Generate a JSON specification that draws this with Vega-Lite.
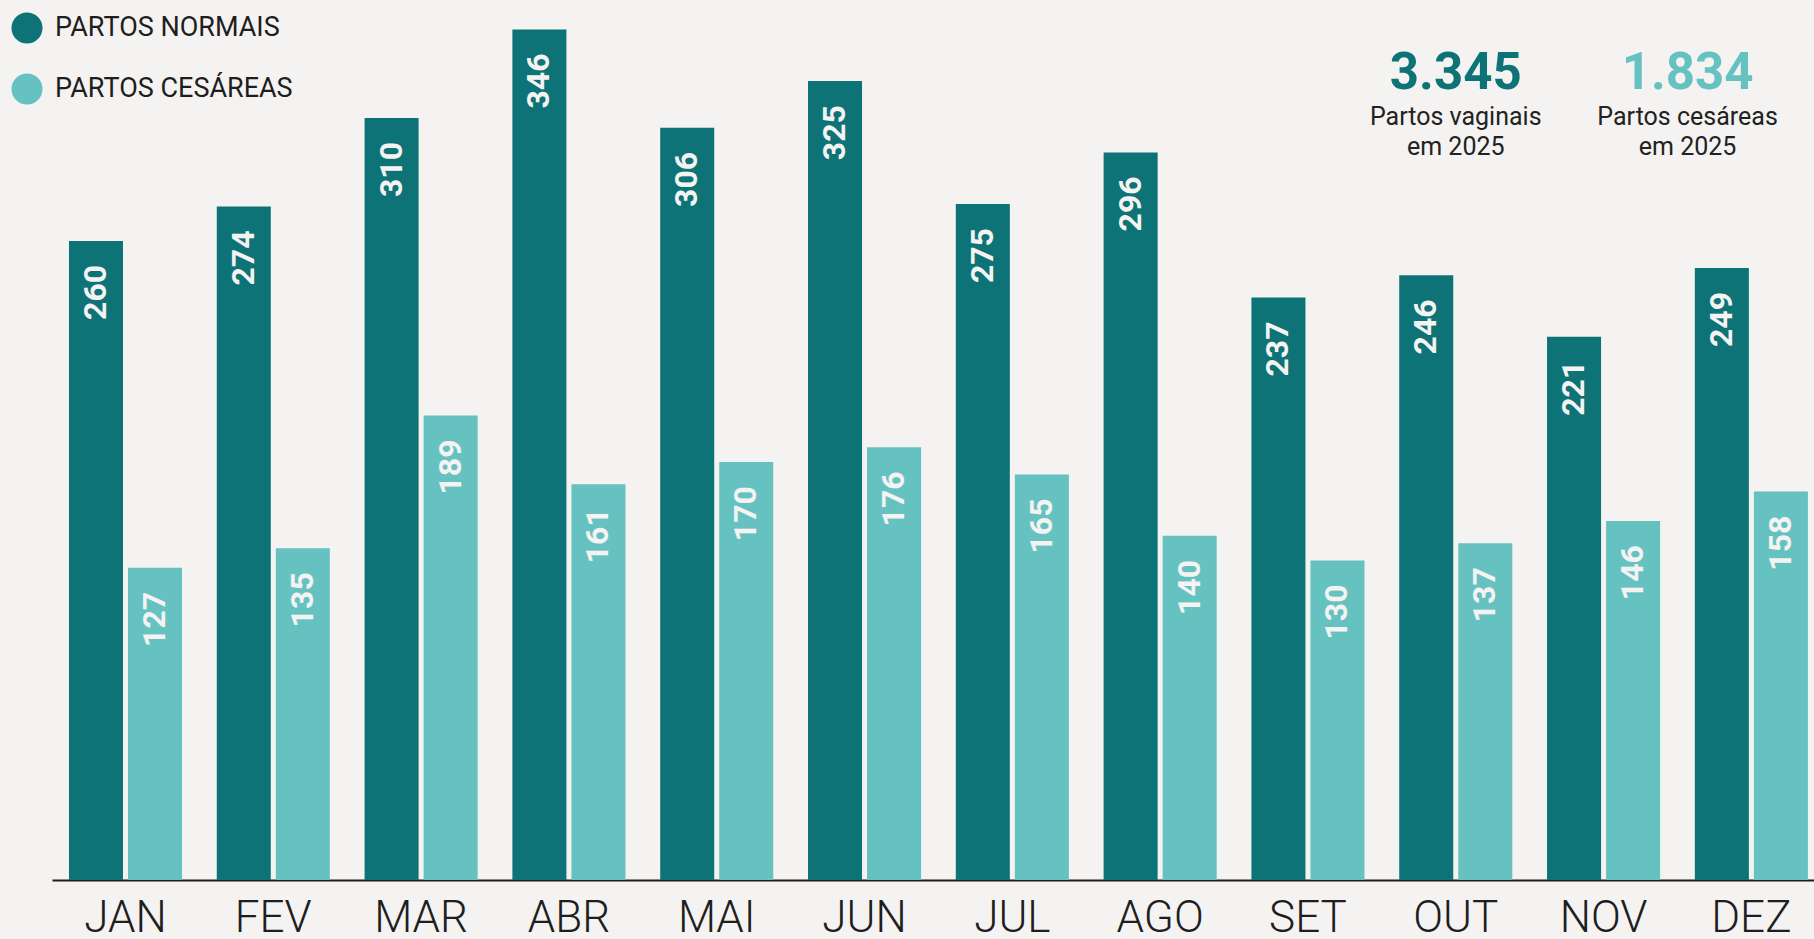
{
  "$schema": "https://vega.github.io/schema/vega-lite/v6.json",
  "width": 1762,
  "height": 880,
  "autosize": {"type": "none"},
  "padding": {"left": 52, "top": 0, "right": 0, "bottom": 59},
  "background": "#f4f3f1",
  "config": {
    "view": {"stroke": null},
    "font": "Roboto"
  },
  "datasets": {
    "partos": [
      {"mes": "JAN", "serie": "PARTOS NORMAIS", "valor": 260},
      {"mes": "JAN", "serie": "PARTOS CESÁREAS", "valor": 127},
      {"mes": "FEV", "serie": "PARTOS NORMAIS", "valor": 274},
      {"mes": "FEV", "serie": "PARTOS CESÁREAS", "valor": 135},
      {"mes": "MAR", "serie": "PARTOS NORMAIS", "valor": 310},
      {"mes": "MAR", "serie": "PARTOS CESÁREAS", "valor": 189},
      {"mes": "ABR", "serie": "PARTOS NORMAIS", "valor": 346},
      {"mes": "ABR", "serie": "PARTOS CESÁREAS", "valor": 161},
      {"mes": "MAI", "serie": "PARTOS NORMAIS", "valor": 306},
      {"mes": "MAI", "serie": "PARTOS CESÁREAS", "valor": 170},
      {"mes": "JUN", "serie": "PARTOS NORMAIS", "valor": 325},
      {"mes": "JUN", "serie": "PARTOS CESÁREAS", "valor": 176},
      {"mes": "JUL", "serie": "PARTOS NORMAIS", "valor": 275},
      {"mes": "JUL", "serie": "PARTOS CESÁREAS", "valor": 165},
      {"mes": "AGO", "serie": "PARTOS NORMAIS", "valor": 296},
      {"mes": "AGO", "serie": "PARTOS CESÁREAS", "valor": 140},
      {"mes": "SET", "serie": "PARTOS NORMAIS", "valor": 237},
      {"mes": "SET", "serie": "PARTOS CESÁREAS", "valor": 130},
      {"mes": "OUT", "serie": "PARTOS NORMAIS", "valor": 246},
      {"mes": "OUT", "serie": "PARTOS CESÁREAS", "valor": 137},
      {"mes": "NOV", "serie": "PARTOS NORMAIS", "valor": 221},
      {"mes": "NOV", "serie": "PARTOS CESÁREAS", "valor": 146},
      {"mes": "DEZ", "serie": "PARTOS NORMAIS", "valor": 249},
      {"mes": "DEZ", "serie": "PARTOS CESÁREAS", "valor": 158}
    ],
    "totais": [
      {"mes": "OUT", "grupo": "normais", "total": "3.345", "y_total": 321.7, "rotulo": "Partos vaginais\nem 2025", "y_rotulo": 307.2},
      {"mes": "NOV", "grupo": "cesareas", "total": "1.834", "y_total": 321.7, "rotulo": "Partos cesáreas\nem 2025", "y_rotulo": 307.2}
    ]
  },
  "layer": [
    {
      "data": {"name": "partos"},
      "mark": {"type": "bar"},
      "encoding": {
        "x": {
          "field": "mes", "type": "nominal",
          "scale": {"domain": ["JAN","FEV","MAR","ABR","MAI","JUN","JUL","AGO","SET","OUT","NOV","DEZ"], "paddingInner": 0.235, "paddingOuter": 0.078, "align": 0.736},
          "axis": {"title": null, "ticks": false, "domain": true, "domainColor": "#1e1e1e", "domainWidth": 2, "labelFont": "Roboto", "labelFontSize": 44, "labelFontWeight": 300, "labelColor": "#1e1e1e", "labelPadding": 16, "labelAngle": 0, "grid": false}
        },
        "xOffset": {"field": "serie", "type": "nominal", "scale": {"domain": ["PARTOS NORMAIS", "PARTOS CESÁREAS"], "paddingInner": 0.085, "paddingOuter": 0}},
        "y": {"field": "valor", "type": "quantitative", "scale": {"domain": [0, 358], "nice": false}, "axis": null},
        "color": {
          "field": "serie", "type": "nominal",
          "scale": {"domain": ["PARTOS NORMAIS", "PARTOS CESÁREAS"], "range": ["#0e7377", "#66c2c1"]},
          "legend": {"orient": "none", "legendX": -41, "legendY": 12, "title": null, "symbolType": "circle", "symbolSize": 962, "labelFontSize": 27, "labelFont": "Roboto", "labelColor": "#1e1e1e", "labelLimit": 500, "rowPadding": 29, "labelOffset": 12, "padding": 0, "symbolStrokeWidth": 0, "symbolOpacity": 1}
        }
      }
    },
    {
      "data": {"name": "partos"},
      "mark": {"type": "text", "angle": 270, "align": "right", "baseline": "middle", "dx": -24, "font": "Roboto", "fontWeight": "bold", "fontSize": 32, "fill": "#f4f3f1"},
      "encoding": {
        "x": {"field": "mes", "type": "nominal"},
        "xOffset": {"field": "serie", "type": "nominal"},
        "y": {"field": "valor", "type": "quantitative"},
        "text": {"field": "valor", "type": "quantitative"}
      }
    },
    {
      "data": {"name": "totais"},
      "transform": [{"filter": "datum.grupo == 'normais'"}],
      "mark": {"type": "text", "align": "center", "baseline": "alphabetic", "font": "Roboto", "fontWeight": "bold", "fontSize": 51, "fill": "#0e7377"},
      "encoding": {
        "x": {"field": "mes", "type": "nominal"},
        "y": {"field": "y_total", "type": "quantitative"},
        "text": {"field": "total", "type": "nominal"}
      }
    },
    {
      "data": {"name": "totais"},
      "transform": [{"filter": "datum.grupo == 'cesareas'"}],
      "mark": {"type": "text", "align": "center", "baseline": "alphabetic", "dx": 84, "font": "Roboto", "fontWeight": "bold", "fontSize": 51, "fill": "#66c2c1"},
      "encoding": {
        "x": {"field": "mes", "type": "nominal"},
        "y": {"field": "y_total", "type": "quantitative"},
        "text": {"field": "total", "type": "nominal"}
      }
    },
    {
      "data": {"name": "totais"},
      "transform": [{"filter": "datum.grupo == 'normais'"}],
      "mark": {"type": "text", "align": "center", "baseline": "alphabetic", "lineBreak": "\n", "lineHeight": 30, "font": "Roboto", "fontSize": 25, "fontWeight": 400, "fill": "#222222"},
      "encoding": {
        "x": {"field": "mes", "type": "nominal"},
        "y": {"field": "y_rotulo", "type": "quantitative"},
        "text": {"field": "rotulo", "type": "nominal"}
      }
    },
    {
      "data": {"name": "totais"},
      "transform": [{"filter": "datum.grupo == 'cesareas'"}],
      "mark": {"type": "text", "align": "center", "baseline": "alphabetic", "dx": 84, "lineBreak": "\n", "lineHeight": 30, "font": "Roboto", "fontSize": 25, "fontWeight": 400, "fill": "#222222"},
      "encoding": {
        "x": {"field": "mes", "type": "nominal"},
        "y": {"field": "y_rotulo", "type": "quantitative"},
        "text": {"field": "rotulo", "type": "nominal"}
      }
    }
  ]
}
